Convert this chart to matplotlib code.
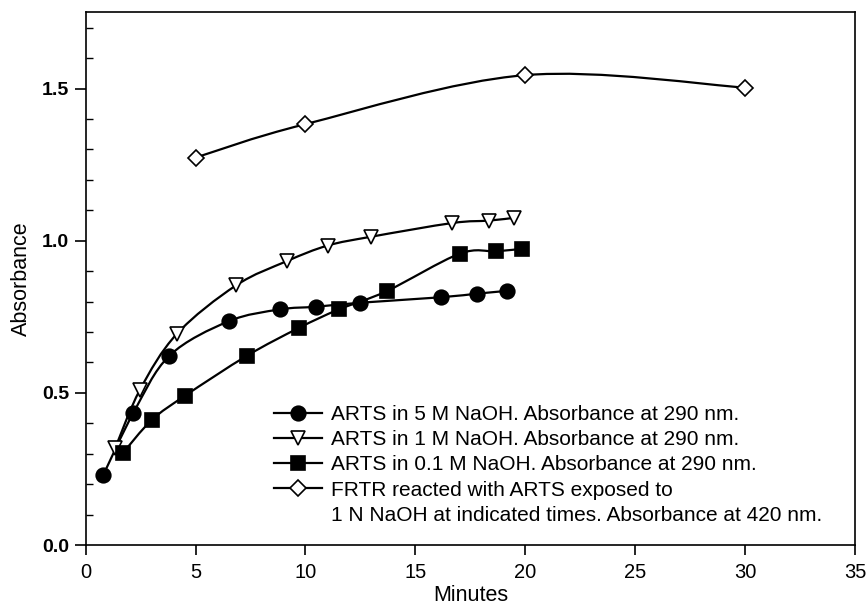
import numpy as np
import matplotlib
matplotlib.use("Agg")
import matplotlib.pyplot as plt
from matplotlib.path import Path
from matplotlib.patches import PathPatch
from matplotlib.lines import Line2D

plt.rcParams['font.family'] = ['Liberation Sans', 'DejaVu Sans']

#------------ Datos ---------
t_5m = [0.8, 2.17, 3.81, 6.5, 8.82, 10.5, 12.47, 16.15, 17.82, 19.16]
a_5m = [0.23, 0.434, 0.622, 0.735, 0.774, 0.783, 0.796, 0.814, 0.826, 0.835]

t_1m = [1.34, 2.47, 4.15, 6.84, 9.16, 11.01, 12.99, 16.68, 18.35, 19.48]
a_1m = [0.318, 0.51, 0.694, 0.853, 0.933, 0.984, 1.013, 1.058, 1.066, 1.075]

t_01m = [1.69, 3.01, 4.53, 7.34, 9.69, 11.51, 13.69, 17.01, 18.66, 19.83]
a_01m = [0.302, 0.411, 0.491, 0.622, 0.713, 0.774, 0.834, 0.957, 0.965, 0.973]

t_frtr = [5, 10, 20, 30]
a_frtr = [1.273, 1.383, 1.544, 1.503]

labels = [
    "ARTS in 5 M NaOH. Absorbance at 290 nm.",
    "ARTS in 1 M NaOH. Absorbance at 290 nm.",
    "ARTS in 0.1 M NaOH. Absorbance at 290 nm.",
    "FRTR reacted with ARTS exposed to",
    "1 N NaOH at indicated times. Absorbance at 420 nm.",
]

#------------ Curva suave (Catmull-Rom -> Bezier) ---------

def smooth_path(x, y):
    p = np.column_stack([x, y]).astype(float)
    verts = [p[0]]
    codes = [Path.MOVETO]
    n = len(p)
    for i in range(n - 1):
        p0 = p[i - 1] if i > 0 else p[i]
        p3 = p[i + 2] if i + 2 < n else p[i + 1]
        c1 = p[i] + (p[i + 1] - p0) / 6.0
        c2 = p[i + 1] - (p3 - p[i]) / 6.0
        verts += [c1, c2, p[i + 1]]
        codes += [Path.CURVE4] * 3
    return Path(verts, codes)

#------------ Figura ---------
fig = plt.figure(figsize=(8.68, 6.15), dpi=100)
ax = fig.add_axes([0.0987, 0.1138, 0.8863, 0.866])

series = [
    (t_5m, a_5m, dict(marker='o', mfc='black', ms=10.5)),
    (t_1m, a_1m, dict(marker='v', mfc='white', ms=10.5)),
    (t_01m, a_01m, dict(marker='s', mfc='black', ms=9.5)),
    (t_frtr, a_frtr, dict(marker='D', mfc='white', ms=8.5)),
]

handles = []
for x, y, st in series:
    ax.add_patch(PathPatch(smooth_path(x, y), fill=False, lw=1.6,
                           edgecolor='black', zorder=2))
    ax.plot(x, y, linestyle='none', mec='black', mew=1.2, zorder=3, **st)
    handles.append(Line2D([], [], color='black', lw=1.6, mec='black',
                          mew=1.2, **st))
handles.append(Line2D([], [], linestyle='none'))

ax.set_xlim(0, 35)
ax.set_ylim(0, 1.75)
ax.set_xticks(np.arange(0, 36, 5))
ax.set_yticks([0.0, 0.5, 1.0, 1.5])
ax.set_yticklabels(["0.0", "0.5", "1.0", "1.5"])
ax.set_yticks(np.arange(0.1, 1.75, 0.1), minor=True)

ax.tick_params(axis='x', direction='out', length=7, width=1.2, labelsize=14.5, pad=6)
ax.tick_params(axis='y', which='major', direction='out', length=8, width=1.2,
               labelsize=14, pad=4)
ax.tick_params(axis='y', which='minor', direction='in', length=5, width=1.0)
for lab in ax.get_xticklabels():
    lab.set_family(['Liberation Sans Narrow', 'Liberation Sans'])
for lab in ax.get_yticklabels():
    lab.set_fontweight('bold')
for s in ax.spines.values():
    s.set_linewidth(1.2)

ax.set_xlabel("Minutes", fontsize=15.5, family=['Liberation Sans Narrow', 'Liberation Sans'],
              labelpad=2)
ax.set_ylabel("Absorbance", fontsize=15.5)
ax.yaxis.set_label_coords(-0.07, 0.5)

ax.legend(handles, labels, loc='upper left', bbox_to_anchor=(0.245, 0.263),
          frameon=False, fontsize=15, handlelength=2.3, handletextpad=0.45,
          labelspacing=0.3, borderpad=0, borderaxespad=0)

fig.savefig("out.png", dpi=100)
